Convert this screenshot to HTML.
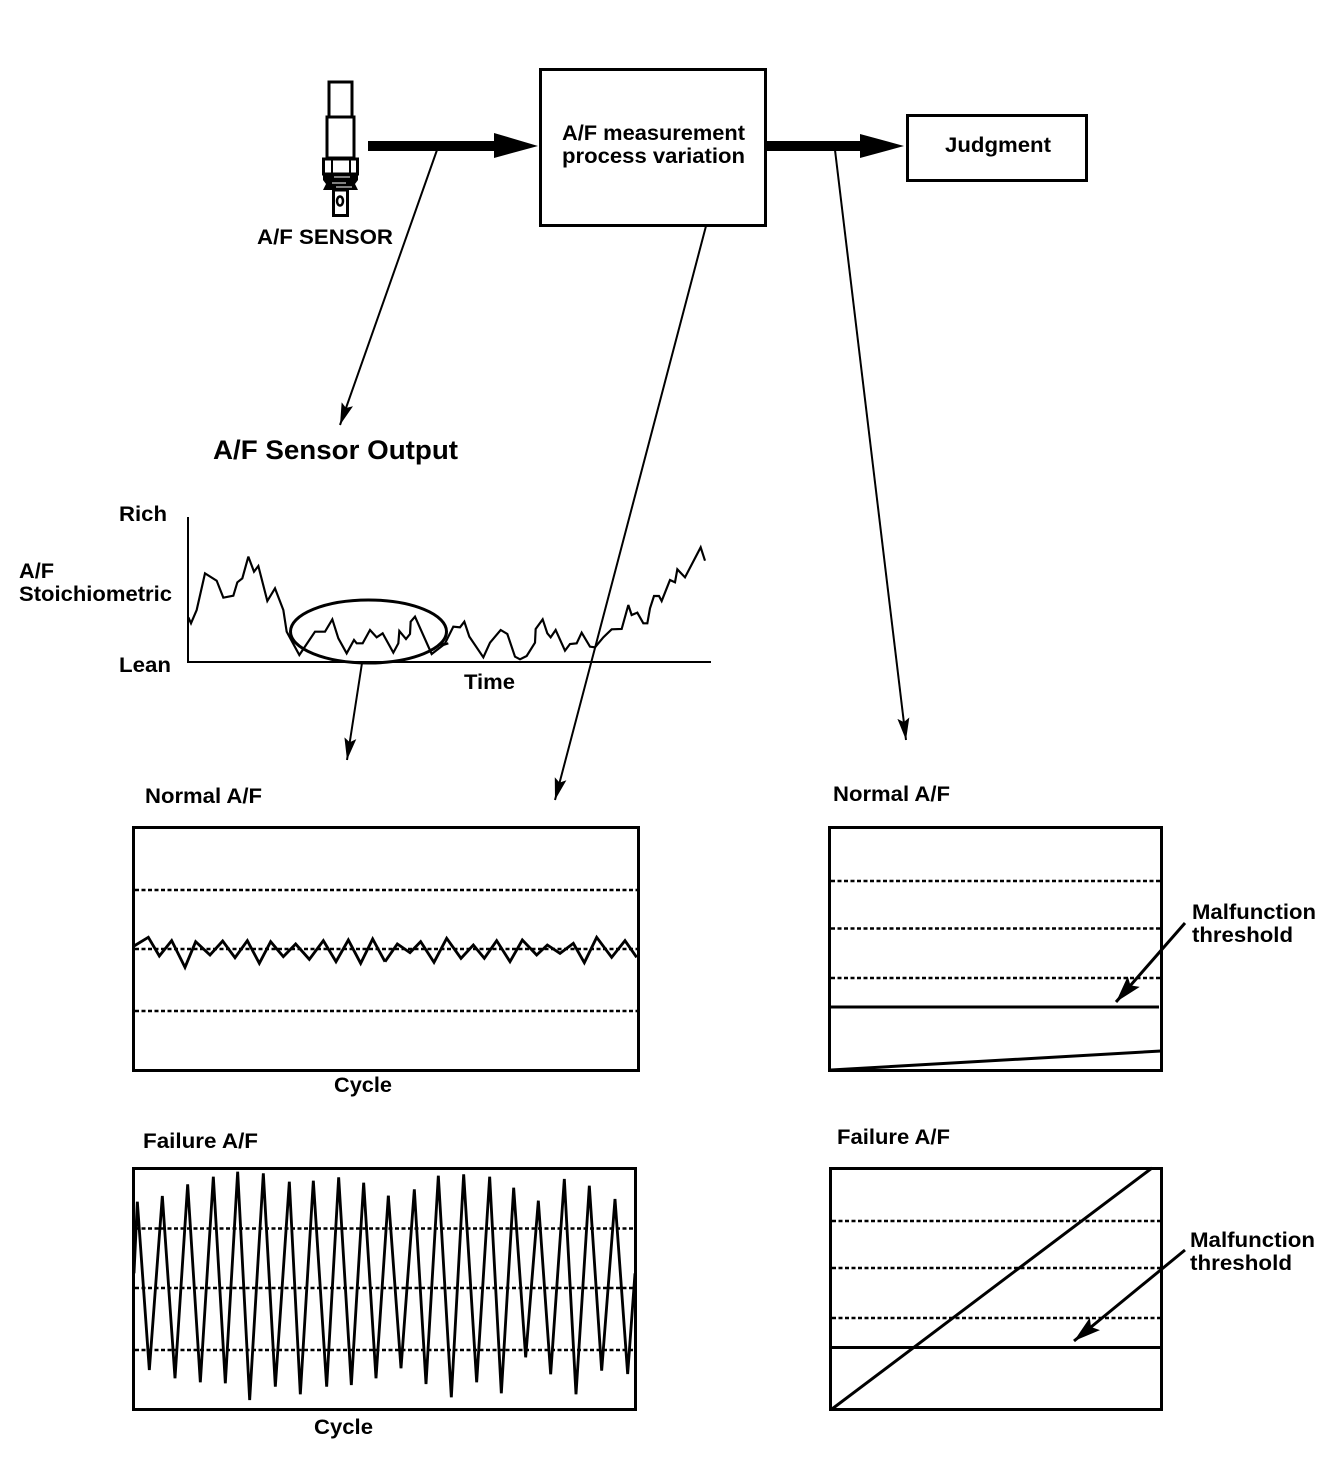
<!DOCTYPE html>
<html><head><meta charset="utf-8"><style>
html,body{margin:0;padding:0;background:#fff}
svg{display:block}
text{font-family:"Liberation Sans",Arial,sans-serif;font-weight:bold;font-size:21px;fill:#000}
.b{fill:none;stroke:#000;stroke-width:3}
.d{fill:none;stroke:#000;stroke-width:2.500;stroke-dasharray:4 2.500}
.l{fill:none;stroke:#000;stroke-width:2}
.s{fill:none;stroke:#000;stroke-width:3}
.w{fill:none;stroke:#000;stroke-width:6.500;stroke-linejoin:miter;stroke-miterlimit:3}
.x{fill:none;stroke:#000;stroke-width:8.500;stroke-linejoin:miter;stroke-miterlimit:4}
</style></head><body>
<svg width="1344" height="1462" viewBox="0 0 1344 1462" xmlns="http://www.w3.org/2000/svg">
<defs>
<marker id="a" markerUnits="userSpaceOnUse" markerWidth="24" markerHeight="16" refX="22" refY="7" orient="auto"><path d="M0 1L22 7L0 13L4 7Z" fill="#000"/></marker>
<marker id="t" markerUnits="userSpaceOnUse" markerWidth="30" markerHeight="20" refX="27" refY="9" orient="auto"><path d="M0 1L27 9L0 17L5 9Z" fill="#000"/></marker>
</defs>
<rect width="1344" height="1462" fill="#fff"/>

<rect class="b" x="329" y="82" width="23" height="35"/>
<rect class="b" x="327" y="117" width="27" height="41"/>
<rect class="b" x="323.500" y="159" width="34" height="15"/>
<path class="l" d="M332 159V174M350 159V174"/>
<path d="M323 174H358V180L355 184L358 190H323L326 184L323 180Z" fill="#000"/>
<path d="M334 177H350M332 183H346M336 187H352" stroke="#fff" stroke-width="1"/>
<rect class="b" x="333.500" y="190" width="14" height="25.500"/>
<ellipse cx="340" cy="201" rx="3" ry="4.500" fill="none" stroke="#000" stroke-width="2.500"/>
<text x="257" y="244" textLength="136" lengthAdjust="spacingAndGlyphs">A/F SENSOR</text>

<rect x="368" y="141" width="130" height="10" fill="#000"/>
<path d="M494 133L538 146L494 158Z" fill="#000"/>
<rect x="766" y="141" width="98" height="10" fill="#000"/>
<path d="M860 134L904 146L860 158Z" fill="#000"/>

<rect class="b" x="540.500" y="69.500" width="225" height="156"/>
<text x="562" y="140" textLength="183" lengthAdjust="spacingAndGlyphs">A/F measurement</text>
<text x="562" y="163" textLength="183" lengthAdjust="spacingAndGlyphs">process variation</text>
<rect class="b" x="907.500" y="115.500" width="179" height="65"/>
<text x="945" y="152" textLength="106" lengthAdjust="spacingAndGlyphs">Judgment</text>

<path class="l" d="M437 150L340 425" marker-end="url(#a)"/>
<path class="l" d="M706 226L555 800" marker-end="url(#a)"/>
<path class="l" d="M835 150L906 740" marker-end="url(#a)"/>
<path class="l" d="M362 663L347 760" marker-end="url(#a)"/>

<text x="213" y="459" style="font-size:27px" textLength="245" lengthAdjust="spacingAndGlyphs">A/F Sensor Output</text>
<text x="119" y="521" textLength="48" lengthAdjust="spacingAndGlyphs">Rich</text>
<text x="19" y="578" textLength="35" lengthAdjust="spacingAndGlyphs">A/F</text>
<text x="19" y="601" textLength="153" lengthAdjust="spacingAndGlyphs">Stoichiometric</text>
<text x="119" y="672" textLength="52" lengthAdjust="spacingAndGlyphs">Lean</text>
<text x="464" y="689" textLength="51" lengthAdjust="spacingAndGlyphs">Time</text>

<path class="l" d="M188 517V662H711"/>
<ellipse cx="368.500" cy="631.500" rx="78" ry="31.500" fill="none" stroke="#000" stroke-width="3"/>
<g transform="translate(180,530) scale(.33333)">
<polyline class="w" points="25,262 33,280 50,240 75,130 110,152 130,203 160,197 172,157 187,145 205,80 222,125 235,108 262,213 285,175 310,240 320,305 358,375 405,305 435,305 457,268 475,325 500,370 522,330 530,340 548,340 570,300 590,322 608,310 640,368 655,340 658,303 678,327 690,312 692,275 705,260 755,372 790,345 805,340"/>
</g>
<g transform="translate(440,530) scale(.33333)">
<polyline class="w" points="0,345 15,340 40,290 60,292 73,275 88,320 130,382 150,338 182,300 202,312 225,380 240,388 260,378 285,338 287,297 308,268 322,310 332,322 347,300 375,362 390,342 410,340 425,308 450,350 465,352 490,322 515,298 545,297 565,225 575,255 592,248 610,280 622,280 630,235 642,198 657,198 665,213 690,150 705,157 712,118 735,142 782,52 795,92"/>
</g>

<text x="145" y="803" textLength="117" lengthAdjust="spacingAndGlyphs">Normal A/F</text>
<rect class="b" x="133.500" y="827.500" width="505" height="243"/>
<path class="d" d="M135 890H637M135 949H637M135 1011H637"/>
<g transform="translate(130,920) scale(.33333)">
<polyline class="x" points="12,78 55,52 88,108 125,62 165,142 197,65 240,105 278,63 315,113 352,62 388,130 422,65 460,110 497,72 538,118 580,62 618,125 655,60 692,130 728,57 765,125"/>
</g>
<g transform="translate(385,920) scale(.33333)">
<polyline class="x" points="0,125 37,72 75,98 107,65 147,127 185,55 228,115 265,75 298,115 335,62 375,125 412,60 455,105 487,75 525,100 565,70 598,128 635,52 680,112 720,62 755,112"/>
</g>
<text x="334" y="1092" textLength="58" lengthAdjust="spacingAndGlyphs">Cycle</text>

<text x="143" y="1148" textLength="115" lengthAdjust="spacingAndGlyphs">Failure A/F</text>
<rect class="b" x="133.500" y="1168.500" width="502" height="241"/>
<path class="d" d="M135 1228.500H635M135 1288H635M135 1350H635"/>
<g transform="translate(130,1160) scale(.33333)">
<polyline class="x" points="12,340 22,125 58,630 97,108 135,655 173,73 211,667 250,50 286,670 323,35 359,720 400,40 436,680 478,65 511,703 550,62 590,680 626,52 664,675 701,68 738,655 775,107"/>
</g>
<g transform="translate(385,1160) scale(.33333)">
<polyline class="x" points="10,107 48,625 88,88 123,672 160,47 199,712 236,43 275,667 314,50 349,700 386,83 422,592 460,122 497,643 538,57 573,703 613,77 650,632 690,117 728,642 750,340"/>
</g>
<text x="314" y="1434" textLength="59" lengthAdjust="spacingAndGlyphs">Cycle</text>

<text x="833" y="801" textLength="117" lengthAdjust="spacingAndGlyphs">Normal A/F</text>
<rect class="b" x="829.500" y="827.500" width="332" height="243"/>
<path class="d" d="M831 881H1161M831 928.500H1161M831 978H1161"/>
<path class="s" d="M831 1007H1159"/>
<path class="s" d="M831 1070L1161 1051"/>
<path d="M1185 923L1116 1002" fill="none" stroke="#000" stroke-width="3" marker-end="url(#t)"/>
<text x="1192" y="919" textLength="124" lengthAdjust="spacingAndGlyphs">Malfunction</text>
<text x="1192" y="942" textLength="101" lengthAdjust="spacingAndGlyphs">threshold</text>

<text x="837" y="1144" textLength="113" lengthAdjust="spacingAndGlyphs">Failure A/F</text>
<rect class="b" x="830.500" y="1168.500" width="331" height="241"/>
<path class="d" d="M832 1221H1161M832 1268H1161M832 1318H1161"/>
<path class="s" d="M832 1347.500H1161"/>
<path class="s" d="M832 1409L1152 1168"/>
<path d="M1185 1250L1074 1341" fill="none" stroke="#000" stroke-width="3" marker-end="url(#t)"/>
<text x="1190" y="1247" textLength="125" lengthAdjust="spacingAndGlyphs">Malfunction</text>
<text x="1190" y="1270" textLength="102" lengthAdjust="spacingAndGlyphs">threshold</text>
</svg>
</body></html>
